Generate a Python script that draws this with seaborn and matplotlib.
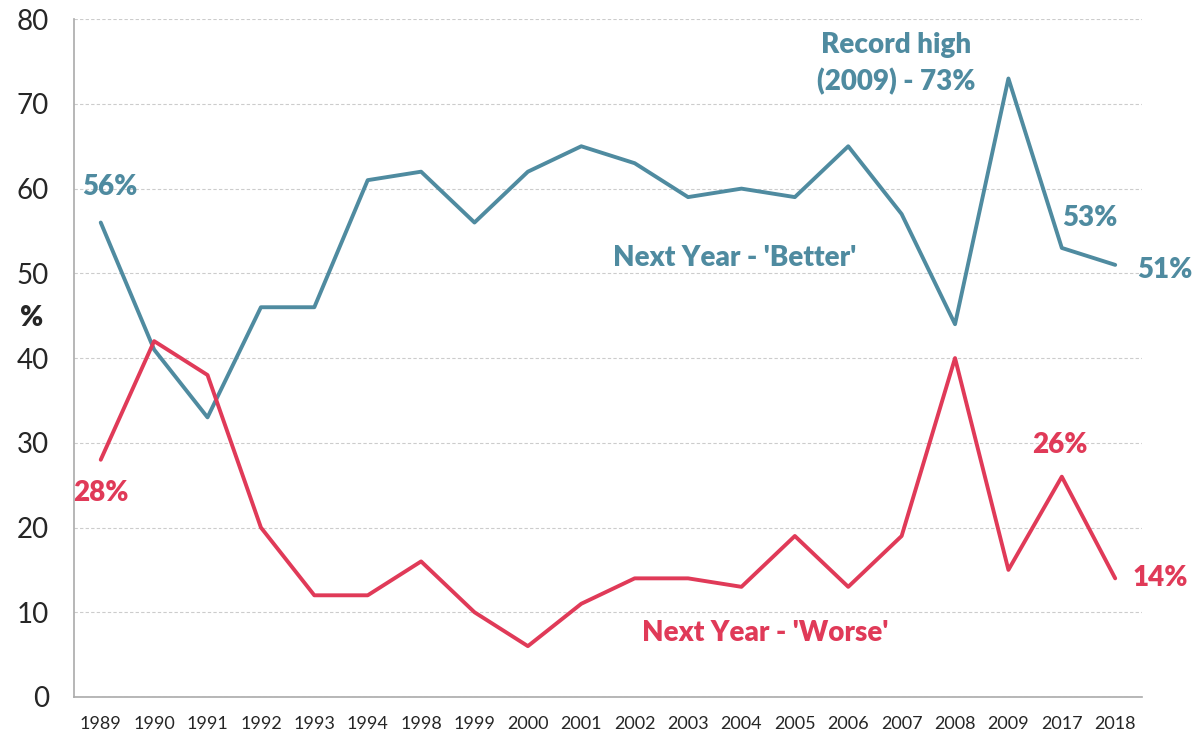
import numpy as np
import pandas as pd
import seaborn as sns
import matplotlib.pyplot as plt
from matplotlib.ticker import FixedLocator

years = ['1989', '1990', '1991', '1992', '1993', '1994', '1998', '1999', '2000', '2001',
         '2002', '2003', '2004', '2005', '2006', '2007', '2008', '2009', '2017', '2018']
better = [56, 41, 33, 46, 46, 61, 62, 56, 62, 65, 63, 59, 60, 59, 65, 57, 44, 73, 53, 51]
worse = [28, 42, 38, 20, 12, 12, 16, 10, 6, 11, 14, 14, 13, 19, 13, 19, 40, 15, 26, 14]

blue = '#4F8BA0'
red = '#E03A58'

sns.set_style("white")
plt.rcParams['font.family'] = ['Lato', 'DejaVu Sans']

df = pd.DataFrame({
    'idx': list(range(len(years))) * 2,
    'value': better + worse,
    'series': ['better'] * len(years) + ['worse'] * len(years),
})

fig = plt.figure(figsize=(12.02, 7.38), dpi=100)
ax = fig.add_axes([0.0616, 0.0556, 0.8884, 0.9184])

sns.lineplot(data=df, x='idx', y='value', hue='series', palette={'better': blue, 'worse': red},
             linewidth=2.8, legend=False, ax=ax)

ax.set_xlim(-0.5, len(years) - 0.5)
ax.set_ylim(0, 80)
ax.set_yticks(range(0, 81, 10))
ax.tick_params(axis='y', labelsize=20, length=12, color='#999999', width=1, pad=6)
ax.set_xticks(range(len(years)))
ax.set_xticklabels(years)
ax.tick_params(axis='x', which='major', labelsize=13, length=0, pad=14)
ax.xaxis.set_minor_locator(FixedLocator(np.arange(-0.5, len(years), 1)))
ax.tick_params(axis='x', which='minor', length=8, color='#999999', width=1)
ax.grid(axis='y', color='#CCCCCC', linestyle=(0, (3, 2)), linewidth=0.8)
ax.set_axisbelow(True)
for s in ['top', 'right']:
    ax.spines[s].set_visible(False)
for s in ['left', 'bottom']:
    ax.spines[s].set_color('#AAAAAA')
    ax.spines[s].set_linewidth(1.2)
ax.set_xlabel('')
ax.set_ylabel('%', fontsize=20, fontweight='heavy', rotation=0, labelpad=20)
ax.yaxis.set_label_coords(-0.04, 0.54)

lab = dict(fontsize=20, fontweight='heavy', ha='center', va='center')
ax.text(0.17, 60.2, '56%', color=blue, **lab)
ax.text(0.0, 24.1, '28%', color=red, **lab)
ax.text(11.88, 51.8, "Next Year - 'Better'", color=blue, **lab)
ax.text(12.44, 7.55, "Next Year - 'Worse'", color=red, **lab)
ax.text(14.9, 74.8, 'Record high\n(2009) - 73%', color=blue, linespacing=1.45, **lab)
ax.text(18.53, 56.5, '53%', color=blue, **lab)
ax.text(19.93, 50.4, '51%', color=blue, clip_on=False, **lab)
ax.text(17.96, 29.7, '26%', color=red, **lab)
ax.text(19.84, 14.0, '14%', color=red, clip_on=False, **lab)

fig.savefig('out.png', dpi=100)
